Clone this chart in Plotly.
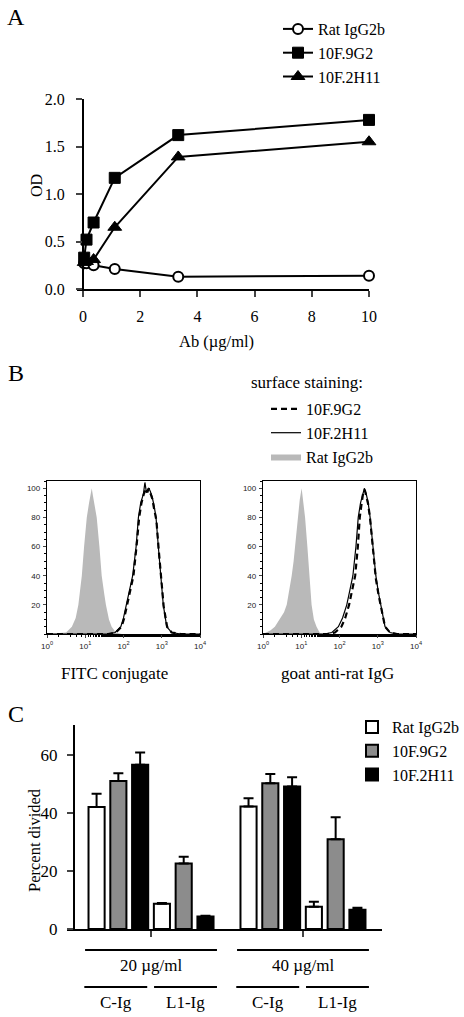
import plotly.graph_objects as go

W, H = 464, 1017
SERIF = "Liberation Serif"
SANS = "Liberation Sans"


def px(x):
    return x / W


def py(y):
    return 1 - y / H


# ---------------- Panel A data ----------------
AB_CONC = [0.041, 0.123, 0.37, 1.11, 3.33, 10]
OD_RAT = [0.27, 0.27, 0.25, 0.21, 0.13, 0.14]
OD_9G2 = [0.33, 0.52, 0.70, 1.17, 1.62, 1.78]
OD_2H11 = [0.28, 0.29, 0.31, 0.65, 1.39, 1.55]
A_TICKS_X = [0, 2, 4, 6, 8, 10]
A_TICKS_Y = [0.0, 0.5, 1.0, 1.5, 2.0]

# ---------------- Panel B data (log10 fluorescence, % of max) ----------------
FITC_RAT_LOG = [0.0, 0.3, 0.5, 0.65, 0.75, 0.82, 0.87, 0.91, 0.97, 1.04, 1.10, 1.14, 1.17,
                1.20, 1.25, 1.30, 1.37, 1.43, 1.50, 1.54, 1.62, 1.69, 1.80, 1.95, 4.0]
FITC_RAT_PCT = [0, 0.3, 1, 5, 11, 20, 30, 40, 60, 80, 90, 96, 100,
                95, 88, 80, 60, 40, 27, 20, 10, 5, 1, 0, 0]
FITC_2H11_LOG = [0.0, 1.6, 1.78, 1.93, 2.0, 2.08, 2.16, 2.24, 2.33, 2.39, 2.45, 2.52, 2.56,
                 2.60, 2.63, 2.66, 2.70, 2.75, 2.80, 2.85, 2.91, 2.97, 3.04, 3.13, 3.26, 3.5, 4.0]
FITC_2H11_PCT = [0, 0, 1, 5, 11, 20, 30, 40, 60, 80, 90, 96, 104,
                 97, 99, 100, 98, 94, 88, 80, 60, 40, 20, 5, 1, 0, 0]
FITC_9G2_LOG = [0.0, 1.6, 1.8, 1.95, 2.02, 2.1, 2.18, 2.26, 2.34, 2.41, 2.47, 2.53, 2.58,
                2.62, 2.66, 2.70, 2.75, 2.80, 2.86, 2.92, 2.98, 3.05, 3.14, 3.26, 3.5, 4.0]
FITC_9G2_PCT = [0, 0, 1, 5, 11, 20, 30, 40, 60, 80, 90, 96, 99,
                97, 100, 97, 93, 86, 78, 58, 38, 19, 5, 1, 0, 0]

GOAT_RAT_LOG = [0.0, 0.1, 0.2, 0.31, 0.44, 0.55, 0.62, 0.69, 0.75, 0.80, 0.84, 0.91, 0.96,
                1.01, 1.05, 1.10, 1.16, 1.21, 1.27, 1.33, 1.40, 1.49, 1.6, 4.0]
GOAT_RAT_PCT = [0, 1, 2.5, 5, 10, 15, 20, 30, 40, 50, 60, 80, 92,
                100, 92, 80, 60, 40, 20, 10, 5, 0.5, 0, 0]
GOAT_2H11_LOG = [0.0, 1.6, 1.80, 1.97, 2.08, 2.19, 2.27, 2.35, 2.43, 2.49, 2.55, 2.60, 2.65,
                 2.70, 2.75, 2.80, 2.87, 2.95, 3.02, 3.08, 3.19, 3.32, 3.5, 4.0]
GOAT_2H11_PCT = [0, 0, 1, 5, 11, 20, 30, 40, 60, 80, 90, 96, 100,
                 96, 90, 80, 60, 40, 28, 20, 5, 1, 0, 0]
GOAT_9G2_LOG = [0.0, 1.7, 1.88, 2.05, 2.15, 2.25, 2.33, 2.41, 2.48, 2.53, 2.58, 2.62, 2.66,
                2.70, 2.75, 2.80, 2.87, 2.95, 3.02, 3.08, 3.19, 3.32, 3.5, 4.0]
GOAT_9G2_PCT = [0, 0, 1, 5, 11, 20, 30, 40, 60, 80, 90, 97, 99,
                95, 89, 79, 58, 38, 27, 19, 5, 1, 0, 0]
B_TICKS_Y = [20, 40, 60, 80, 100]
B_DECADES = [0, 1, 2, 3, 4]

# ---------------- Panel C data ----------------
CONC = ["20 µg/ml", "40 µg/ml"]
COATS = ["C-Ig", "L1-Ig"]
ANTIBODIES = ["Rat IgG2b", "10F.9G2", "10F.2H11"]
CIG_RAT = [42.0, 42.2]
CIG_9G2 = [51.0, 50.2]
CIG_2H11 = [56.6, 49.1]
L1_RAT = [8.7, 7.7]
L1_9G2 = [22.6, 30.9]
L1_2H11 = [4.3, 6.6]
CIG_RAT_ERR = [4.6, 2.9]
CIG_9G2_ERR = [2.7, 3.2]
CIG_2H11_ERR = [4.2, 3.2]
L1_RAT_ERR = [0.3, 1.7]
L1_9G2_ERR = [2.3, 7.6]
L1_2H11_ERR = [0.3, 0.7]
C_TICKS_Y = [0, 20, 40, 60]

fig = go.Figure()

# ---------- Panel A traces ----------
a_specs = [
    ("Rat IgG2b", OD_RAT, dict(symbol="circle", size=10, color="white",
                               line=dict(color="black", width=2))),
    ("10F.9G2", OD_9G2, dict(symbol="square", size=11, color="black",
                             line=dict(color="black", width=1))),
    ("10F.2H11", OD_2H11, dict(symbol="triangle-up", size=12, color="black",
                               line=dict(color="black", width=1))),
]
for name, vals, mk in a_specs:
    fig.add_trace(go.Scatter(
        x=AB_CONC, y=vals, mode="lines+markers", name=name,
        line=dict(color="black", width=2), marker=mk,
        xaxis="x", yaxis="y", legend="legend", cliponaxis=False))

# ---------- Panel B traces ----------
b_panels = [
    ("x2", "y2", FITC_RAT_LOG, FITC_RAT_PCT, FITC_9G2_LOG, FITC_9G2_PCT, FITC_2H11_LOG, FITC_2H11_PCT, True),
    ("x3", "y3", GOAT_RAT_LOG, GOAT_RAT_PCT, GOAT_9G2_LOG, GOAT_9G2_PCT, GOAT_2H11_LOG, GOAT_2H11_PCT, False),
]
for xa, ya, rl, rp, gl, gp, hl, hp, show in b_panels:
    fig.add_trace(go.Scatter(
        x=[10 ** v for v in rl], y=rp, mode="lines", fill="tozeroy",
        fillcolor="#b9b9b9", line=dict(width=0, color="#b9b9b9"),
        name="Rat IgG2b", legend="legend2", legendrank=3, showlegend=show,
        xaxis=xa, yaxis=ya))
    fig.add_trace(go.Scatter(
        x=[10 ** v for v in hl], y=hp, mode="lines",
        line=dict(color="black", width=1.2),
        name="10F.2H11", legend="legend2", legendrank=2, showlegend=show,
        xaxis=xa, yaxis=ya))
    fig.add_trace(go.Scatter(
        x=[10 ** v for v in gl], y=gp, mode="lines",
        line=dict(color="black", width=2.2, dash="6px,4px"),
        name="10F.9G2", legend="legend2", legendrank=1, showlegend=show,
        xaxis=xa, yaxis=ya))

# ---------- Panel C traces ----------
bar_colors = ["white", "#8c8c8c", "black"]
c_series = [
    (CIG_RAT, CIG_RAT_ERR), (CIG_9G2, CIG_9G2_ERR), (CIG_2H11, CIG_2H11_ERR),
    (L1_RAT, L1_RAT_ERR), (L1_9G2, L1_9G2_ERR), (L1_2H11, L1_2H11_ERR),
]
for i, (vals, errs) in enumerate(c_series):
    fig.add_trace(go.Bar(
        x=CONC, y=vals, name=ANTIBODIES[i % 3],
        marker=dict(color=bar_colors[i % 3], line=dict(color="black", width=2)),
        error_y=dict(type="data", array=errs, arrayminus=[0] * len(errs),
                     symmetric=False, thickness=2, width=5, color="black"),
        legend="legend3", showlegend=(i < 3), legendrank=i,
        xaxis="x4", yaxis="y4"))

# ---------- Axes ----------
line_common = dict(showline=True, linecolor="black", showgrid=False, zeroline=False,
                   automargin=False)

fig.update_layout(
    xaxis=dict(domain=[px(77), px(369)], range=[-0.21, 10], anchor="y",
               tickvals=A_TICKS_X, ticks="outside", ticklen=6, tickwidth=2,
               linewidth=2, ticklabelstandoff=6,
               tickfont=dict(family=SERIF, size=16, color="black"), **line_common),
    yaxis=dict(domain=[py(289), py(99)], range=[0, 2], anchor="free", position=px(83),
               tickvals=A_TICKS_Y, tickformat=".1f", ticks="outside", ticklen=6, tickwidth=2,
               linewidth=2, ticklabelstandoff=8,
               tickfont=dict(family=SERIF, size=16, color="black"), **line_common),
)

hist_x = dict(type="log", range=[0, 4], tickvals=[10 ** d for d in B_DECADES],
              ticktext=["10<sup>%d</sup>" % d for d in B_DECADES],
              ticks="outside", ticklen=3, tickwidth=1, linewidth=1.3, mirror=True,
              ticklabelstandoff=1,
              minor=dict(ticks="outside", ticklen=2, tickwidth=0.8, tickcolor="black"),
              tickfont=dict(family=SANS, size=8, color="#222"), **line_common)
hist_y = dict(range=[0, 105], tickvals=B_TICKS_Y, ticks="outside", ticklen=3, tickwidth=1,
              linewidth=1.3, mirror=True, ticklabelstandoff=1,
              minor=dict(dtick=5, ticks="outside", ticklen=2, tickwidth=0.8, tickcolor="black"),
              tickfont=dict(family=SANS, size=8, color="#222"), **line_common)
fig.update_layout(
    xaxis2=dict(domain=[px(47), px(200)], anchor="y2", **hist_x),
    yaxis2=dict(domain=[py(634), py(481)], anchor="x2", **hist_y),
    xaxis3=dict(domain=[px(263), px(416)], anchor="y3", **hist_x),
    yaxis3=dict(domain=[py(634), py(481)], anchor="x3", **hist_y),
)

fig.update_layout(
    xaxis4=dict(domain=[px(67), px(382)], type="category", categoryarray=CONC,
                range=[-0.553, 1.52], anchor="y4", ticks="outside", ticklen=6, tickwidth=2,
                linewidth=2, showticklabels=False, **line_common),
    yaxis4=dict(domain=[py(929), py(725)], range=[0, 70.3], anchor="free", position=px(74),
                tickvals=C_TICKS_Y, ticks="outside", ticklen=6, tickwidth=2, linewidth=2,
                ticklabelstandoff=6,
                tickfont=dict(family=SERIF, size=17, color="black"), **line_common),
    barmode="group", bargap=0.14, bargroupgap=0.26,
)

# ---------- Legends ----------
leg_font = dict(family=SERIF, size=16, color="black")
fig.update_layout(
    legend=dict(x=px(278), y=py(12), xanchor="left", yanchor="top", font=leg_font,
                bgcolor="rgba(0,0,0,0)", itemwidth=30, tracegroupgap=0),
    legend2=dict(x=px(266), y=py(392), xanchor="left", yanchor="top", font=leg_font,
                 bgcolor="rgba(0,0,0,0)", itemwidth=30, tracegroupgap=0),
    legend3=dict(x=px(352), y=py(710), xanchor="left", yanchor="top", font=leg_font,
                 bgcolor="rgba(0,0,0,0)", itemwidth=30, tracegroupgap=0),
)

# ---------- Annotations ----------
ann = []


def add_text(text, x, y, size=17, xref="paper", angle=0, xanchor="center"):
    ann.append(dict(text=text, x=x, y=y, xref=xref, yref="paper", showarrow=False,
                    textangle=angle, xanchor=xanchor, yanchor="middle",
                    font=dict(family=SERIF, size=size, color="black")))


add_text("A", px(16), py(17), size=24)
add_text("B", px(16), py(373), size=24)
add_text("C", px(16), py(714), size=24)
add_text("OD", px(36), py(186), size=16, angle=-90)
add_text("Ab (µg/ml)", px(216), py(341), size=16.5)
add_text("surface staining:", px(307), py(382), size=17)
add_text("FITC conjugate", px(114), py(673))
add_text("goat anti-rat IgG", px(337), py(673))
add_text("Percent divided", px(34), py(840), size=16.5, angle=-90)

shapes = []
GROUP_HALF = 0.434
for i, conc in enumerate(CONC):
    shapes.append(dict(type="line", xref="x4", yref="paper", x0=i - GROUP_HALF, x1=i + GROUP_HALF,
                       y0=py(950), y1=py(950), line=dict(color="black", width=2)))
    add_text(conc, i, py(965), xref="x4")
    spans = [(i - GROUP_HALF - 0.005, i - 0.025), (i + 0.02, i + GROUP_HALF)]
    for coat, (a, b) in zip(COATS, spans):
        shapes.append(dict(type="line", xref="x4", yref="paper", x0=a, x1=b,
                           y0=py(987), y1=py(987), line=dict(color="black", width=2)))
        add_text(coat, (a + b) / 2, py(1002), xref="x4")

fig.update_layout(
    annotations=ann, shapes=shapes,
    width=W, height=H, margin=dict(l=0, r=0, t=0, b=0, pad=0, autoexpand=False),
    paper_bgcolor="white", plot_bgcolor="rgba(0,0,0,0)",
    font=dict(family=SERIF, color="black"),
)

fig.write_html("out.html", config={"displayModeBar": False},
               post_script="document.body.style.margin='0';document.body.style.overflow='hidden';")
